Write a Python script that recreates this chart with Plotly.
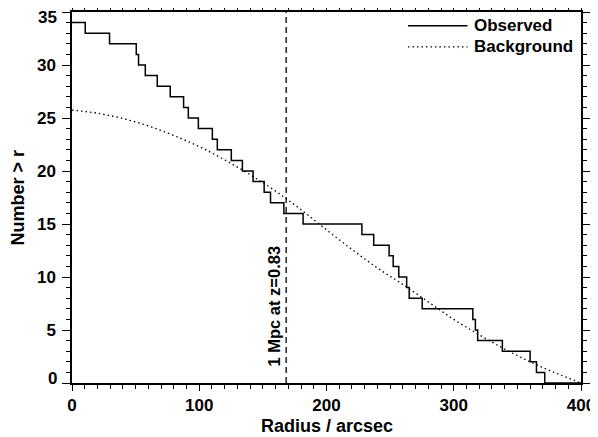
import plotly.graph_objects as go

# Observed cumulative counts (step function): radius where the count drops, count from there on
obs_r = [0, 10.4, 29.5, 50.5, 52.3, 57.6, 67.0, 77.2, 87.7, 91.4, 99.3, 110.3, 114.2,
         125.2, 133.9, 142.3, 151.0, 156.0, 166.5, 181.6, 227.8, 237.1, 249.2, 252.4,
         256.8, 263.0, 265.0, 275.2, 315.0, 317.0, 318.8, 338.2, 360.0, 365.0, 371.5, 400]
obs_n = [34, 33, 32, 31, 30, 29, 28, 27, 26, 25, 24, 23, 22, 21, 20, 19, 18, 17, 16, 15,
         14, 13, 12, 11, 10, 9, 8, 7, 6, 5, 4, 3, 2, 1, 0, 0]

# Expected background counts
bg_r = [0, 20, 40, 60, 80, 100, 120, 140, 160, 180, 200, 220, 240, 260, 280, 300, 320,
        340, 360, 380, 400]
bg_n = [25.75, 25.45, 24.95, 24.25, 23.35, 22.3, 21.05, 19.65, 18.1, 16.35, 14.45, 12.6,
        10.85, 9.3, 7.65, 6.0, 4.55, 3.2, 2.0, 0.95, 0.0]

mpc_radius = 168.3
mpc_label = "1 Mpc at z=0.83"
x_ticks = [0, 100, 200, 300, 400]
y_ticks = [0, 5, 10, 15, 20, 25, 30, 35]

FONT = "Liberation Sans, Arial, Helvetica, sans-serif"
fsz = 17
tsz = 18

fig = go.Figure()
fig.add_trace(go.Scatter(x=obs_r, y=obs_n, mode="lines", name="Observed",
                         line=dict(color="black", width=1.5, shape="hv")))
fig.add_trace(go.Scatter(x=bg_r, y=bg_n, mode="lines", name="Background",
                         line=dict(color="black", width=1.3, dash="1.5px,3px", shape="spline")))
fig.add_trace(go.Scatter(x=[mpc_radius, mpc_radius], y=[0, 35], mode="lines", showlegend=False,
                         line=dict(color="black", width=1.3, dash="6px,4px")))

fig.add_annotation(x=158.5, y=7.28, xref="x", yref="y", text=mpc_label, textangle=-90,
                   showarrow=False, font=dict(family=FONT, size=16.5, color="black", weight="bold"))

# legend drawn by hand (long line samples as in the original)
leg = [("Observed", None, 0.963), ("Background", "dot", 0.906)]
for name, dash, yy in leg:
    fig.add_shape(type="line", xref="paper", yref="paper", x0=0.66, x1=0.777, y0=yy, y1=yy,
                  line=dict(color="black", width=1.5 if dash is None else 1.3,
                            dash="solid" if dash is None else "1.5px,3px"))
    fig.add_annotation(x=0.785, y=yy, xref="paper", yref="paper", text=name, showarrow=False,
                       xanchor="left", yanchor="middle",
                       font=dict(family=FONT, size=fsz, color="black", weight="bold"))

# axis titles
fig.add_annotation(x=0.5, y=0, xref="paper", yref="paper", yshift=-43, yanchor="middle",
                   text="Radius / arcsec", showarrow=False, borderpad=0,
                   font=dict(family=FONT, size=tsz, color="black", weight="bold"))
fig.add_annotation(x=0, y=0.5, xref="paper", yref="paper", xshift=-55, xanchor="center",
                   text="Number > r", textangle=-90, showarrow=False,
                   font=dict(family=FONT, size=tsz, color="black", weight="bold"))

# end labels of the y axis are kept inside the axis extent, as in the original
y_lab = [str(v) for v in y_ticks]
end_labels = {y_ticks[-1]: -5, y_ticks[0]: 5}
for v, sh in end_labels.items():
    fig.add_annotation(x=0, y=v, xref="paper", yref="y", xanchor="right", yanchor="middle",
                       xshift=-13, yshift=sh, text=str(v), showarrow=False,
                       font=dict(family=FONT, size=fsz, color="black", weight="bold"))
y_text = ["" if v in end_labels else s for v, s in zip(y_ticks, y_lab)]

axis_common = dict(showline=True, linecolor="black", linewidth=1.5, mirror="allticks",
                   ticks="outside", tickwidth=1.2, tickcolor="black",
                   showgrid=False, zeroline=False, automargin=False,
                   tickfont=dict(family=FONT, size=fsz, color="black", weight="bold"))

fig.update_xaxes(range=[0, 400], tickvals=x_ticks, ticktext=[str(v) for v in x_ticks], ticklen=6,
                 minor=dict(ticks="outside", ticklen=4, dtick=10, tick0=0, tickcolor="black", tickwidth=1),
                 **axis_common)
fig.update_yaxes(range=[0, 35], tickvals=y_ticks, ticktext=y_text, ticklen=8, ticklabelstandoff=3,
                 minor=dict(ticks="outside", ticklen=4, dtick=1, tick0=0, tickcolor="black", tickwidth=1),
                 **axis_common)

# the page body adds an 8px offset, so margins are reduced by 8 on the left/top
fig.update_layout(width=598, height=437, margin=dict(l=64, r=25, t=4, b=62),
                  paper_bgcolor="white", plot_bgcolor="white", showlegend=False)

fig.write_html("out.html")
